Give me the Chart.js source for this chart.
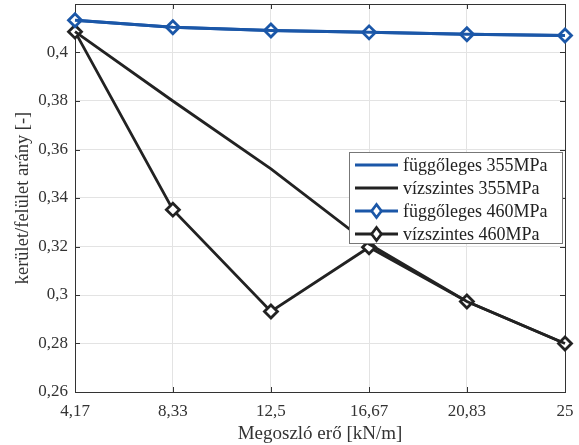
<!DOCTYPE html>
<html>
<head>
<meta charset="utf-8">
<script src="https://cdn.jsdelivr.net/npm/chart.js@4"></script>
<style>
  html, body { margin: 0; padding: 0; background: #fff; }
  #wrap { width: 579px; height: 445px; }
</style>
</head>
<body>
<div id="wrap"><canvas id="chart" width="579" height="445"></canvas></div>
<script>
// x values (distributed load) and their printed labels
const xValues = [4.17, 8.33, 12.5, 16.67, 20.83, 25];
const xLabels = ['4,17', '8,33', '12,5', '16,67', '20,83', '25'];
const yTicks = [0.26, 0.28, 0.30, 0.32, 0.34, 0.36, 0.38, 0.40, 0.42];
const yLabels = ['0,26', '0,28', '0,3', '0,32', '0,34', '0,36', '0,38', '0,4', ''];

// series
const fugg355 = [0.4133, 0.4104, 0.4091, 0.4083, 0.4075, 0.4070];
const vizsz355 = [0.4086, 0.3800, 0.3520, 0.3210, 0.2973, 0.2800];
const fugg460 = [0.4133, 0.4104, 0.4091, 0.4083, 0.4075, 0.4070];
const vizsz460 = [0.4086, 0.3352, 0.2932, 0.3197, 0.2973, 0.2800];

const BLUE = '#1b57a8';
const BLACK = '#222222';
const FONT = 'Liberation Serif';

function pts(ys) {
  return xValues.map((x, i) => ({ x: x, y: ys[i] }));
}

// frame + inward ticks like matlab
const framePlugin = {
  id: 'frame',
  beforeDatasetsDraw(chart) {
    const { ctx, chartArea: a, scales } = chart;
    ctx.save();
    ctx.strokeStyle = '#333';
    ctx.lineWidth = 1;
    ctx.strokeRect(a.left + 0.5, a.top + 0.5, a.right - a.left, a.bottom - a.top);
    ctx.beginPath();
    xValues.forEach(v => {
      const px = Math.round(scales.x.getPixelForValue(v)) + 0.5;
      ctx.moveTo(px, a.bottom); ctx.lineTo(px, a.bottom - 5);
      ctx.moveTo(px, a.top); ctx.lineTo(px, a.top + 5);
    });
    yTicks.forEach(v => {
      const py = Math.round(scales.y.getPixelForValue(v)) + 0.5;
      ctx.moveTo(a.left, py); ctx.lineTo(a.left + 5, py);
      ctx.moveTo(a.right, py); ctx.lineTo(a.right - 5, py);
    });
    ctx.stroke();
    ctx.restore();
  }
};

// legend box inside the plot
const legendPlugin = {
  id: 'boxLegend',
  afterDraw(chart) {
    const ctx = chart.ctx;
    const x0 = 349, y0 = 152, w = 213, h = 91;
    ctx.save();
    ctx.fillStyle = '#fff';
    ctx.fillRect(x0, y0, w, h);
    ctx.strokeStyle = '#777';
    ctx.lineWidth = 1;
    ctx.strokeRect(x0 + 0.5, y0 + 0.5, w, h);
    ctx.font = '18px "' + FONT + '"';
    ctx.textBaseline = 'middle';
    chart.data.datasets.forEach((ds, i) => {
      const y = y0 + 13 + i * 23;
      ctx.strokeStyle = ds.borderColor;
      ctx.lineWidth = ds.borderWidth;
      ctx.beginPath();
      ctx.moveTo(x0 + 6, y); ctx.lineTo(x0 + 49, y);
      ctx.stroke();
      if (ds.pointRadius > 0) {
        const cx = x0 + 27.5, r = ds.pointRadius;
        ctx.lineWidth = ds.pointBorderWidth;
        ctx.fillStyle = '#fff';
        ctx.beginPath();
        ctx.moveTo(cx, y - r); ctx.lineTo(cx + r * 0.75, y);
        ctx.lineTo(cx, y + r); ctx.lineTo(cx - r * 0.75, y);
        ctx.closePath();
        ctx.fill(); ctx.stroke();
      }
      ctx.fillStyle = '#222';
      ctx.fillText(ds.label, x0 + 54, y + 1);
    });
    ctx.restore();
  }
};

new Chart(document.getElementById('chart'), {
  type: 'line',
  data: {
    datasets: [
      { label: 'függőleges 355MPa', data: pts(fugg355), borderColor: BLUE, borderWidth: 3, pointRadius: 0 },
      { label: 'vízszintes 355MPa', data: pts(vizsz355), borderColor: BLACK, borderWidth: 2.8, pointRadius: 0 },
      { label: 'függőleges 460MPa', data: pts(fugg460), borderColor: BLUE, borderWidth: 3,
        pointStyle: 'rectRot', pointRadius: 6.5, pointBorderWidth: 2.8, pointBackgroundColor: '#fff', pointBorderColor: BLUE },
      { label: 'vízszintes 460MPa', data: pts(vizsz460), borderColor: BLACK, borderWidth: 2.8,
        pointStyle: 'rectRot', pointRadius: 6.5, pointBorderWidth: 2.8, pointBackgroundColor: '#fff', pointBorderColor: BLACK }
    ]
  },
  options: {
    responsive: false,
    animation: false,
    clip: false,
    layout: { autoPadding: false, padding: { top: 4, right: 14, left: 0, bottom: 0 } },
    plugins: { legend: { display: false }, tooltip: { enabled: false } },
    elements: { line: { tension: 0 } },
    scales: {
      x: {
        type: 'linear',
        min: 4.17, max: 25,
        afterBuildTicks: s => { s.ticks = xValues.map(v => ({ value: v })); },
        afterFit: s => { s.height = 53; s.paddingLeft = 0; s.paddingRight = 0; },
        grid: { color: '#e3e3e3', drawTicks: false },
        border: { display: false },
        ticks: {
          color: '#333', padding: 9, maxRotation: 0,
          font: { family: FONT, size: 17 },
          callback: (v, i) => xLabels[i]
        },
        title: { display: true, text: 'Megoszló erő [kN/m]', color: '#333',
          font: { family: FONT, size: 19 }, padding: { top: 0, bottom: 0 } }
      },
      y: {
        min: 0.26, max: 0.42,
        afterBuildTicks: s => { s.ticks = yTicks.map(v => ({ value: v })); },
        afterFit: s => { s.width = 75; s.paddingTop = 0; s.paddingBottom = 0; },
        grid: { color: '#e3e3e3', drawTicks: false },
        border: { display: false },
        ticks: {
          color: '#333', padding: 7,
          font: { family: FONT, size: 17 },
          callback: (v, i) => yLabels[i]
        },
        title: { display: true, text: 'kerület/felület arány [-]', color: '#333',
          font: { family: FONT, size: 18.5 }, padding: { top: 12, bottom: 0 } }
      }
    }
  },
  plugins: [framePlugin, legendPlugin]
});
</script>
</body>
</html>
